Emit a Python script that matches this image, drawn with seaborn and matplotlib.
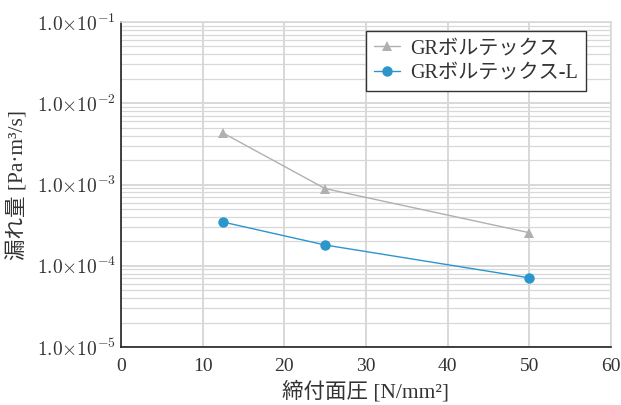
import numpy as np
import pandas as pd
import matplotlib
matplotlib.use("Agg")
import matplotlib.pyplot as plt
import matplotlib.ticker as mticker
import seaborn as sns

x_vals = [12.5, 25, 50]
gr_vals = [4.3e-3, 8.9e-4, 2.55e-4]
grl_vals = [3.45e-4, 1.8e-4, 7.1e-5]
series_names = ["GRボルテックス", "GRボルテックス-L"]
series_colors = ["#b0b0b2", "#2b96cc"]
series_markers = ["^", "o"]

sns.set_theme(style="white")
plt.rcParams['font.family'] = ['Liberation Serif', 'Noto Sans CJK JP']
plt.rcParams['mathtext.fontset'] = 'cm'

df = pd.DataFrame({
    "x": x_vals * 2,
    "y": gr_vals + grl_vals,
    "s": [series_names[0]] * 3 + [series_names[1]] * 3,
})

fig = plt.figure(figsize=(6.21, 4.05), dpi=100)
ax = fig.add_axes([121/621, 1-347/405, (611-121)/621, (347-22)/405])

for name, c, m in zip(series_names, series_colors, series_markers):
    sub = df[df.s == name]
    sns.lineplot(data=sub, x="x", y="y", ax=ax, color=c, marker=m,
                 markersize=7.5, markeredgewidth=0, linewidth=1.0, label=name)

ax.set_yscale("log")
ax.set_ylim(1e-5, 1e-1)
ax.set_xlim(0, 60)
ax.xaxis.set_major_locator(mticker.MultipleLocator(10))
ax.xaxis.set_minor_locator(mticker.MultipleLocator(5))
ax.yaxis.set_major_locator(mticker.LogLocator(base=10, numticks=10))
ax.yaxis.set_minor_locator(mticker.LogLocator(base=10, subs=np.arange(2, 10), numticks=20))

def fmt(v, pos):
    e = int(round(np.log10(v)))
    return r"$1.0{\times}10^{%d}$" % e
ax.yaxis.set_major_formatter(mticker.FuncFormatter(fmt))
ax.yaxis.set_minor_formatter(mticker.NullFormatter())

ax.grid(True, which="major", color="#d8d8d8", linewidth=1.4)
ax.grid(True, which="minor", axis="y", color="#d8d8d8", linewidth=0.9)
ax.set_axisbelow(True)

for s in ["top", "right"]:
    ax.spines[s].set_color("#d8d8d8")
    ax.spines[s].set_linewidth(1.2)
for s in ["left", "bottom"]:
    ax.spines[s].set_color("#222222")
    ax.spines[s].set_linewidth(1.2)

ax.tick_params(axis="both", which="both", direction="in", colors="#222222",
               labelsize=14, labelcolor="#333333")
ax.tick_params(axis="both", which="major", length=5)
ax.tick_params(axis="both", which="minor", length=3)
ax.tick_params(axis="x", which="both", top=False)
ax.tick_params(axis="y", which="both", right=False)
ax.tick_params(axis="x", pad=8)

ax.set_xlabel("締付面圧 [N/mm²]", fontsize=15.5, color="#333333", labelpad=4)
ax.set_ylabel("漏れ量 [Pa·m³/s]", fontsize=15.5, color="#333333", labelpad=6)

leg = ax.legend(loc="upper right", bbox_to_anchor=(0.962, 0.99), fontsize=14.5,
                frameon=True, fancybox=False, framealpha=1, borderpad=0.4,
                handlelength=1.3, handletextpad=0.5, labelspacing=0.25,
                borderaxespad=0.3)
leg.get_frame().set_edgecolor("#333333")
leg.get_frame().set_linewidth(1.0)
for t in leg.get_texts():
    t.set_color("#333333")

fig.savefig("out.png", dpi=100)
